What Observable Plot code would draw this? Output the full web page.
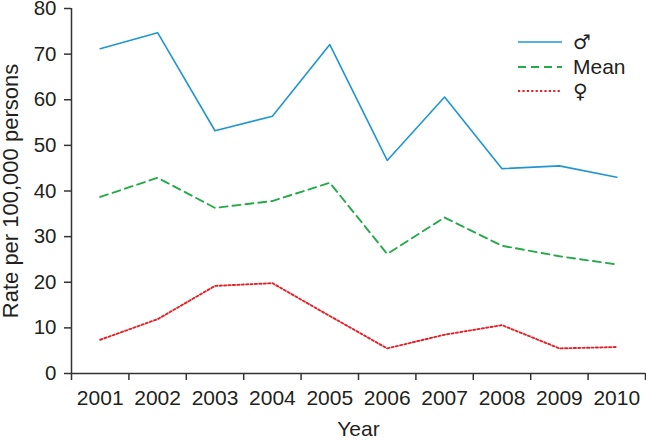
<!DOCTYPE html>
<html>
<head>
<meta charset="utf-8">
<script src="https://cdn.jsdelivr.net/npm/d3@7"></script>
<script src="https://cdn.jsdelivr.net/npm/@observablehq/plot@0.6"></script>
<style>
  html, body { margin: 0; padding: 0; background: #fff; }
  #wrap { position: relative; width: 646px; height: 440px; font-family: "Liberation Sans", Arial, sans-serif; color: #231f20; }
  #legend { position: absolute; left: 518px; top: 30px; font-size: 21px; }
  #legend .row { display: flex; align-items: center; height: 24.5px; }
  #legend svg { width: 44px; height: 10px; margin-right: 11px; flex: none; }
  #legend .sym { font-family: "DejaVu Sans", sans-serif; font-size: 20px; }
</style>
</head>
<body>
<div id="wrap"></div>
<script>
const years = [2001, 2002, 2003, 2004, 2005, 2006, 2007, 2008, 2009, 2010];
const male = [71.2, 74.7, 53.2, 56.4, 72.1, 46.7, 60.6, 44.9, 45.5, 43.0];
const meanVals = [38.7, 42.9, 36.3, 37.8, 41.8, 26.2, 34.2, 28.0, 25.7, 23.9];
const female = [7.4, 11.9, 19.2, 19.8, 12.6, 5.5, 8.5, 10.6, 5.5, 5.8];
const yTicks = [0, 10, 20, 30, 40, 50, 60, 70, 80];
const seriesNames = ["\u2642", "Mean", "\u2640"];
const seriesIsSymbol = [true, false, true];
const seriesColors = ["#1f96d2", "#25a94a", "#e3232c"];
const seriesDash = [null, "8,5", "2.2,2.2"];
const seriesWidth = [1.6, 1.9, 1.9];

const boundaries = [...years.map(y => y - 0.5), years[years.length - 1] + 0.5];
const rows = (vals) => years.map((y, i) => ({year: y, value: vals[i]}));

const axisColor = "#333";
const chart = Plot.plot({
  width: 646,
  height: 440,
  marginLeft: 71,
  marginRight: 1,
  marginTop: 8,
  marginBottom: 67,
  style: {fontFamily: "'Liberation Sans', Arial, sans-serif", fontSize: "20px", color: "#231f20", background: "white"},
  x: {type: "linear", domain: [boundaries[0], boundaries[boundaries.length - 1]]},
  y: {domain: [0, 80]},
  marks: [
    Plot.axisY({ticks: yTicks, tickSize: 7, tickPadding: 8, label: null, stroke: axisColor, strokeWidth: 1.5, fontSize: 20.5}),
    Plot.axisX({ticks: years, tickSize: 0, tickPadding: 17, tickFormat: d => String(d), label: null, fontSize: 21}),
    Plot.axisX({ticks: boundaries, tickSize: 7, tickFormat: () => "", label: null, stroke: axisColor, strokeWidth: 1.5}),
    Plot.ruleY([0], {stroke: axisColor, strokeWidth: 1.5}),
    Plot.ruleX([boundaries[0]], {stroke: axisColor, strokeWidth: 1.5}),
    Plot.text(["Rate per 100,000 persons"], {frameAnchor: "left", textAnchor: "middle", lineAnchor: "middle", rotate: -90, dx: -61, dy: 0, fontSize: 22, fill: "#231f20"}),
    Plot.text(["Year"], {frameAnchor: "bottom", dy: 62, fontSize: 21, fill: "#231f20"}),
    Plot.line(rows(male), {x: "year", y: "value", stroke: seriesColors[0], strokeWidth: seriesWidth[0]}),
    Plot.line(rows(meanVals), {x: "year", y: "value", stroke: seriesColors[1], strokeWidth: seriesWidth[1], strokeDasharray: seriesDash[1]}),
    Plot.line(rows(female), {x: "year", y: "value", stroke: seriesColors[2], strokeWidth: seriesWidth[2], strokeDasharray: seriesDash[2]})
  ]
});

const wrap = document.getElementById("wrap");
wrap.appendChild(chart);
const legend = document.createElement("div");
legend.id = "legend";
seriesNames.forEach((name, i) => {
  const row = document.createElement("div");
  row.className = "row";
  const dash = seriesDash[i] ? ` stroke-dasharray="${seriesDash[i]}"` : "";
  row.innerHTML = `<svg viewBox="0 0 44 10"><line x1="0" x2="44" y1="5" y2="5" stroke="${seriesColors[i]}" stroke-width="${seriesWidth[i]}"${dash}/></svg><span class="${seriesIsSymbol[i] ? "sym" : ""}">${name}</span>`;
  legend.appendChild(row);
});
wrap.appendChild(legend);
</script>
</body>
</html>
